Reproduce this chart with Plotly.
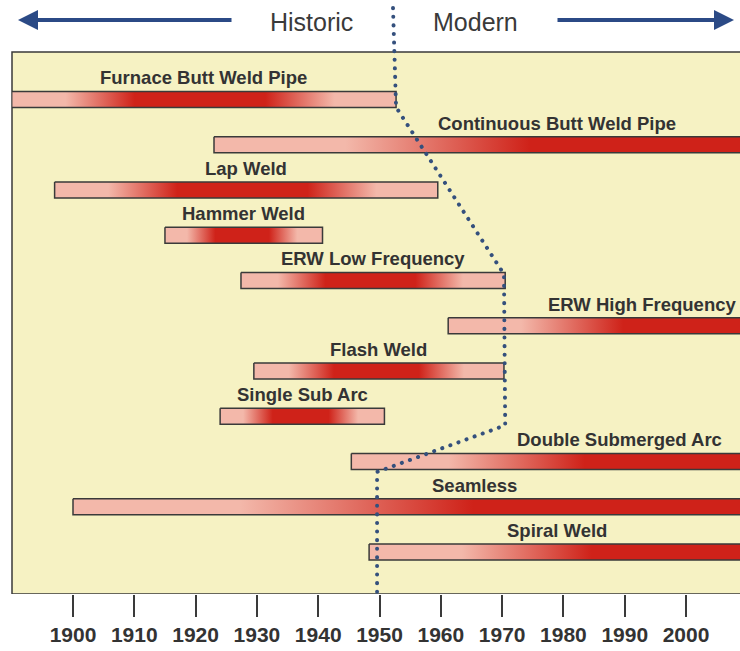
import plotly.graph_objects as go

# ---- data ----
PROCESSES = ["Furnace Butt Weld Pipe", "Continuous Butt Weld Pipe", "Lap Weld",
             "Hammer Weld", "ERW Low Frequency", "ERW High Frequency", "Flash Weld",
             "Single Sub Arc", "Double Submerged Arc", "Seamless", "Spiral Weld"]
START_YEAR = [1890, 1923, 1897, 1915, 1927.4, 1961.2, 1929.5, 1924, 1945.4, 1900, 1948.3]
END_YEAR = [1952.7, 2035, 1959.5, 1940.7, 1970.5, 2024.4, 1970.3, 1950.8, 2033, 2031, 2009.7]
TICK_YEARS = [1900, 1910, 1920, 1930, 1940, 1950, 1960, 1970, 1980, 1990, 2000]
# historic / modern boundary (year, row)
BOUNDARY_YEAR = [1952.2, 1952.7, 1970.3, 1970.5, 1949.6, 1949.6]
BOUNDARY_ROW = [-2.02, 0.17, 3.86, 7.2, 8.23, 10.93]

# ---- style ----
X_RANGE = [1890.05, 2008.8]
Y_RANGE = [10.928, -2.199]
FRAME_TOP = -1.05
HALF_H = 0.178
LIGHT = "#f3b8aa"
DARK = "#cf2219"
ENDED_SCALE = [[0, LIGHT], [0.14, LIGHT], [0.32, DARK], [0.66, DARK], [0.84, LIGHT], [1, LIGHT]]
ONGOING_SCALE = [[0, LIGHT], [0.25, LIGHT], [0.6, DARK], [1, DARK]]
TEXT = "#333333"
FONT = "Liberation Sans, Arial, sans-serif"

fig = go.Figure()

for i, (name, s, e) in enumerate(zip(PROCESSES, START_YEAR, END_YEAR)):
    ongoing = e > X_RANGE[1]
    fig.add_trace(go.Scatter(
        x=[s, e, e, s, s],
        y=[i - HALF_H, i - HALF_H, i + HALF_H, i + HALF_H, i - HALF_H],
        mode="lines", fill="toself",
        line=dict(color="#3a3a3a", width=1.5),
        fillgradient=dict(type="horizontal",
                          colorscale=ONGOING_SCALE if ongoing else ENDED_SCALE,
                          start=s, stop=(X_RANGE[1] if ongoing else e)),
        hoverinfo="skip", showlegend=False))
    fig.add_annotation(x=(s + e) / 2, y=i - 0.48, xref="x", yref="y", text=name,
                       showarrow=False, xanchor="center", yanchor="middle",
                       font=dict(family=FONT, size=18.5, color=TEXT, weight="bold"))

fig.add_trace(go.Scatter(
    x=BOUNDARY_YEAR, y=BOUNDARY_ROW, mode="lines", name="boundary",
    line=dict(color="#34507d", width=4, dash="4px,5px"),
    hoverinfo="skip", showlegend=False))

# yellow frame
fig.add_shape(type="rect", xref="paper", yref="y", x0=0, x1=1.05,
              y0=FRAME_TOP, y1=Y_RANGE[0], fillcolor="#f6f2c3",
              line=dict(color="#3a3a3a", width=1.5), layer="below")

# header
def px(xp):
    return (xp - 12) / 728

def py(yp):
    return (594 - yp) / 594

fig.add_annotation(x=px(18), y=py(20), xref="paper", yref="paper", text="",
                   showarrow=True, ax=215, ay=0, axref="pixel", ayref="pixel",
                   arrowhead=2, arrowsize=1, arrowwidth=4, arrowcolor="#2b4a86")
fig.add_annotation(x=px(734), y=py(20), xref="paper", yref="paper", text="",
                   showarrow=True, ax=-178, ay=0, axref="pixel", ayref="pixel",
                   arrowhead=2, arrowsize=1, arrowwidth=4, arrowcolor="#2b4a86")
fig.add_annotation(x=px(311), y=py(22), xref="paper", yref="paper", text="Historic",
                   showarrow=False, xanchor="center", yanchor="middle",
                   font=dict(family=FONT, size=25, color="#3a3a3a"))
fig.add_annotation(x=px(476), y=py(22), xref="paper", yref="paper", text="Modern",
                   showarrow=False, xanchor="center", yanchor="middle",
                   font=dict(family=FONT, size=25, color="#3a3a3a"))

fig.update_layout(
    width=740, height=651,
    margin=dict(l=12, r=0, t=0, b=57),
    paper_bgcolor="white", plot_bgcolor="rgba(0,0,0,0)",
    xaxis=dict(range=X_RANGE, tickvals=TICK_YEARS, ticks="outside", ticklen=22,
               tickwidth=1.5, tickcolor="#3a3a3a", showgrid=False, zeroline=False,
               showline=False,
               tickfont=dict(family=FONT, size=21, color=TEXT, weight="bold")),
    yaxis=dict(range=Y_RANGE, showticklabels=False, showgrid=False, zeroline=False,
               ticks="", showline=False),
)

post = (
    "document.body.style.margin='0';document.body.style.overflow='hidden';"
    "var tr=document.querySelectorAll('.scatterlayer .trace');"
    "var last=tr[tr.length-1];"
    "if(last){last.querySelectorAll('path.js-line').forEach(function(p){"
    "p.style.strokeLinecap='round';p.style.strokeDasharray='0.1px,8.5px';});}"
)
fig.write_html("out.html", config={"displayModeBar": False}, post_script=post)
